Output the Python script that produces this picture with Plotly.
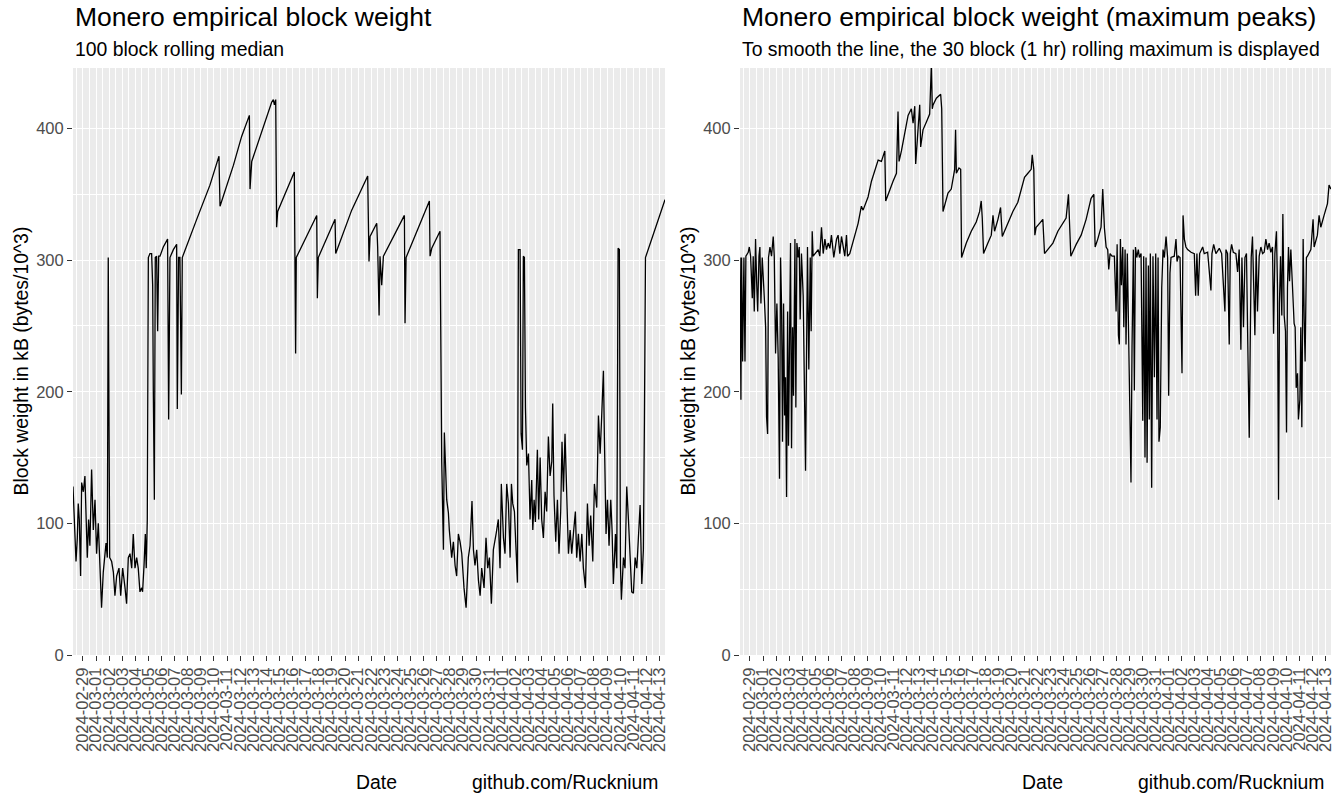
import plotly.graph_objects as go
import pandas as pd

# ---------------- data (days since 2024-02-29 00:00, value in kB) ----------------
date_origin = "2024-02-29"

left_days = [
    -0.76, -0.61, -0.53, -0.43, -0.36, -0.28, -0.18, -0.10, 0.03, 0.15, 0.23, 0.33, 0.43, 0.53,
    0.66, 0.79, 0.92, 1.04, 1.17, 1.30, 1.42, 1.55, 1.76, 1.86, 1.93, 2.04, 2.19, 2.32, 2.44,
    2.57, 2.75, 2.88, 3.03, 3.21, 3.33, 3.46, 3.59, 3.72, 3.84, 3.97, 4.10, 4.22, 4.35, 4.48,
    4.55, 4.66, 4.76, 4.83, 4.91, 4.99, 5.11, 5.24, 5.32, 5.37, 5.45, 5.52, 5.62, 5.70, 5.78,
    5.88, 6.13, 6.46, 6.54, 6.64, 6.90, 7.15, 7.20, 7.30, 7.40, 7.51, 7.58, 8.68, 9.69, 10.38,
    10.46, 11.48, 12.11, 12.70, 12.75, 12.88, 13.89, 14.40, 14.53, 14.61, 14.71, 14.78, 14.86,
    16.13, 16.23, 16.28, 17.84, 17.89, 17.96, 19.24, 19.29, 20.51, 21.73, 21.83, 21.91, 22.42,
    22.49, 22.60, 22.67, 22.80, 22.93, 24.53, 24.58, 24.66, 26.44, 26.49, 26.62, 27.25, 27.38,
    27.51, 27.58, 27.69, 27.76, 27.89, 27.96, 28.14, 28.27, 28.40, 28.52, 28.65, 28.78, 28.91,
    29.08, 29.24, 29.41, 29.54, 29.69, 29.80, 29.92, 30.05, 30.18, 30.31, 30.43, 30.61, 30.76,
    30.89, 31.02, 31.17, 31.32, 31.53, 31.70, 31.83, 31.93, 32.09, 32.21, 32.34, 32.47, 32.60,
    32.70, 32.80, 32.93, 33.05, 33.16, 33.23, 33.36, 33.44, 33.54, 33.61, 33.69, 33.77, 33.87,
    34.00, 34.12, 34.25, 34.33, 34.43, 34.53, 34.68, 34.78, 34.89, 35.01, 35.14, 35.27, 35.39,
    35.52, 35.65, 35.78, 35.85, 35.95, 36.08, 36.21, 36.33, 36.46, 36.56, 36.67, 36.79, 36.92,
    37.05, 37.18, 37.30, 37.43, 37.58, 37.68, 37.81, 37.94, 38.07, 38.19, 38.35, 38.50, 38.63,
    38.75, 38.91, 39.03, 39.21, 39.34, 39.47, 39.59, 39.72, 39.80, 39.92, 40.03, 40.15, 40.28,
    40.38, 40.48, 40.64, 40.74, 40.84, 40.94, 41.02, 41.09, 41.25, 41.37, 41.50, 41.63, 41.76,
    41.88, 42.01, 42.14, 42.27, 42.39, 42.52, 42.65, 42.77, 42.85, 42.93, 44.42,
]
left_kb = [
    128, 92, 71, 89, 115, 103, 60, 131, 124, 136, 109, 74, 103, 83,
    141, 95, 118, 77, 100, 57, 36, 63, 85, 74, 302, 74, 71, 63, 45,
    60, 66, 45, 66, 51, 39, 74, 77, 66, 92, 66, 74, 66, 48, 51,
    48, 68, 92, 66, 103, 302, 305, 305, 281, 200, 118, 302, 303, 246, 303,
    303, 310, 316, 179, 302, 308, 312, 187, 302, 302, 198, 302, 331, 357, 379,
    341, 372, 394, 410, 354, 375, 404, 420, 422, 418, 422, 325, 337,
    367, 229, 302, 334, 271, 302, 331, 305, 338, 364, 299, 318, 328,
    310, 258, 303, 281, 303, 334, 252, 302, 345, 303, 309, 322, 147,
    80, 169, 144, 118, 108, 95, 74, 86, 68, 60, 92, 86, 77,
    51, 36, 74, 83, 117, 80, 68, 80, 57, 45, 66, 51, 89,
    66, 74, 39, 80, 92, 103, 66, 130, 89, 77, 130, 115, 74,
    130, 115, 109, 80, 55, 308, 308, 168, 156, 303, 302, 188, 144,
    153, 103, 133, 95, 118, 101, 156, 103, 150, 103, 89, 124, 109,
    166, 136, 147, 191, 121, 86, 118, 77, 109, 162, 124, 168, 118,
    77, 95, 77, 92, 109, 74, 92, 71, 92, 66, 51, 115, 83,
    106, 71, 130, 112, 182, 153, 182, 216, 162, 92, 118, 83, 118,
    95, 54, 92, 66, 309, 308, 68, 42, 74, 66, 128, 103, 74,
    48, 47, 74, 66, 95, 114, 54, 80, 179, 302, 346,
]

right_days = [
    -0.76, -0.69, -0.64, -0.56, -0.46, -0.38, -0.31, -0.13, -0.05, 0.05, 0.18, 0.25, 0.33, 0.43,
    0.51, 0.59, 0.69, 0.76, 0.84, 0.94, 1.09, 1.20, 1.27, 1.35, 1.42, 1.53, 1.65, 1.78, 1.86,
    1.96, 2.06, 2.16, 2.26, 2.34, 2.42, 2.49, 2.57, 2.65, 2.72, 2.80, 2.88, 2.95, 3.03, 3.10,
    3.18, 3.26, 3.33, 3.44, 3.51, 3.59, 3.69, 3.77, 3.84, 3.94, 4.07, 4.17, 4.25, 4.33, 4.40,
    4.50, 4.61, 4.68, 4.76, 4.83, 4.96, 5.22, 5.34, 5.47, 5.60, 5.73, 5.85, 5.98, 6.11, 6.23,
    6.41, 6.62, 6.74, 6.87, 7.00, 7.12, 7.25, 7.38, 7.46, 7.63, 8.27, 8.52, 8.65, 9.03, 9.29,
    9.80, 10.05, 10.31, 10.38, 10.94, 11.20, 11.32, 11.40, 11.58, 11.83, 12.09, 12.34, 12.47,
    12.60, 12.67, 12.80, 12.98, 13.05, 13.23, 13.49, 13.74, 13.87, 13.94, 14.00, 14.25, 14.58,
    14.66, 14.76, 15.14, 15.39, 15.65, 15.72, 15.78, 15.98, 16.11, 16.18, 16.54, 16.92, 17.30,
    17.56, 17.68, 17.76, 17.86, 18.19, 18.45, 18.58, 18.70, 18.96, 19.16, 19.29, 19.72, 20.10,
    20.48, 20.74, 20.99, 21.25, 21.50, 21.58, 21.70, 21.78, 21.88, 22.14, 22.39, 22.52, 22.77,
    23.16, 23.54, 23.92, 24.17, 24.35, 24.43, 24.53, 24.94, 25.32, 25.70, 26.08, 26.29, 26.39,
    26.59, 26.84, 26.97, 27.10, 27.23, 27.35, 27.43, 27.53, 27.68, 27.86, 27.99, 28.07, 28.17,
    28.24, 28.32, 28.40, 28.50, 28.58, 28.68, 28.75, 28.85, 28.96, 29.13, 29.21, 29.31, 29.39,
    29.47, 29.57, 29.69, 29.77, 29.90, 30.03, 30.10, 30.20, 30.28, 30.36, 30.46, 30.53, 30.61,
    30.71, 30.81, 30.92, 31.02, 31.12, 31.20, 31.27, 31.37, 31.48, 31.58, 31.68, 31.81, 31.93,
    32.01, 32.11, 32.19, 32.44, 32.57, 32.65, 32.75, 32.88, 32.95, 33.03, 33.11, 33.21, 33.33,
    33.46, 33.72, 33.97, 34.07, 34.17, 34.27, 34.38, 34.61, 34.73, 34.99, 35.11, 35.24, 35.32,
    35.45, 35.62, 35.88, 36.06, 36.21, 36.31, 36.39, 36.51, 36.64, 36.72, 36.82, 36.95, 37.15,
    37.28, 37.40, 37.53, 37.61, 37.73, 37.84, 37.96, 38.09, 38.17, 38.24, 38.32, 38.42, 38.50,
    38.60, 38.70, 38.80, 38.93, 39.06, 39.19, 39.31, 39.44, 39.57, 39.69, 39.82, 39.95, 40.03,
    40.13, 40.25, 40.33, 40.41, 40.48, 40.56, 40.66, 40.74, 40.84, 40.94, 41.02, 41.09, 41.17,
    41.25, 41.35, 41.48, 41.60, 41.68, 41.76, 41.86, 41.93, 42.04, 42.11, 42.19, 42.29, 42.37,
    42.44, 42.54, 42.62, 42.88, 43.05, 43.13, 43.38, 43.51, 43.64, 43.89, 44.15, 44.27, 44.42,
]
right_kb = [
    302, 194, 302, 223, 302, 223, 303, 306, 310, 303, 271, 303, 261, 316,
    284, 261, 303, 310, 267, 302, 273, 249, 181, 168, 302, 310, 303, 318, 303,
    229, 267, 226, 134, 302, 264, 162, 267, 182, 211, 120, 261, 159, 241, 313,
    157, 249, 197, 316, 188, 313, 302, 310, 255, 305, 273, 176, 140, 232, 310,
    217, 302, 246, 322, 303, 305, 308, 303, 325, 305, 316, 308, 313, 309, 319,
    302, 316, 319, 305, 318, 310, 303, 319, 303, 305, 328, 341, 338, 348, 360,
    376, 375, 383, 345, 360, 366, 413, 375, 383, 395, 410, 415, 404,
    417, 373, 392, 418, 386, 399, 405, 411, 449, 415, 418, 423, 426,
    415, 337, 351, 354, 369, 399, 366, 370, 369, 302, 313, 322, 329,
    337, 345, 332, 305, 313, 319, 334, 322, 331, 340, 318, 328, 337,
    344, 353, 363, 366, 369, 380, 369, 319, 325, 328, 331, 305, 308,
    313, 322, 328, 332, 350, 334, 303, 312, 319, 331, 347, 350, 310,
    316, 325, 354, 324, 310, 308, 293, 305, 303, 303, 261, 312, 243,
    236, 316, 281, 310, 249, 308, 236, 305, 223, 131, 235, 308, 201,
    310, 302, 308, 302, 305, 178, 303, 150, 302, 146, 296, 179, 305,
    127, 303, 211, 305, 179, 302, 162, 173, 279, 308, 302, 318, 302,
    197, 290, 302, 303, 316, 299, 303, 302, 236, 214, 334, 316, 310,
    308, 306, 305, 273, 305, 273, 305, 310, 305, 306, 288, 277, 305,
    312, 305, 309, 305, 279, 261, 308, 305, 236, 305, 312, 306, 305,
    291, 308, 232, 302, 249, 302, 305, 214, 165, 232, 302, 318, 284,
    243, 308, 261, 303, 310, 305, 306, 316, 308, 313, 306, 310, 244,
    305, 322, 279, 118, 267, 303, 258, 335, 258, 246, 169, 279, 310,
    284, 308, 273, 252, 249, 203, 214, 179, 194, 249, 173, 316, 255,
    223, 302, 303, 308, 331, 310, 319, 334, 325, 334, 343, 357, 354,
]

y_ticks = [0, 100, 200, 300, 400]
y_max = 446
x_range_days = [-0.76, 44.42]

titles = ["Monero empirical block weight", "Monero empirical block weight (maximum peaks)"]
subtitles = ["100 block rolling median",
             "To smooth the line, the 30 block (1 hr) rolling maximum is displayed"]
y_title = "Block weight in kB (bytes/10^3)"
x_title = "Date"
caption = "github.com/Rucknium"


def to_time(days):
    return pd.Timestamp(date_origin) + pd.to_timedelta(pd.Series(days, dtype=float), unit="D")


# ---------------- figure ----------------
W, H = 1337, 794
FONT = "Liberation Sans, Arial, sans-serif"

fig = go.Figure()
fig.add_trace(go.Scatter(x=to_time(left_days), y=left_kb, mode="lines",
                         line=dict(color="black", width=1.3), xaxis="x", yaxis="y",
                         hoverinfo="skip"))
fig.add_trace(go.Scatter(x=to_time(right_days), y=right_kb, mode="lines",
                         line=dict(color="black", width=1.3), xaxis="x2", yaxis="y2",
                         hoverinfo="skip"))

xr = list(to_time(x_range_days))

panels = [(73, 665), (740, 1331)]
top_px, bot_px = 68, 655
ydom = [(H - bot_px) / H, (H - top_px) / H]

common_x = dict(
    type="date", range=xr, tick0=date_origin, dtick=86400000, tickformat="%Y-%m-%d",
    tickangle=-90, ticks="outside", ticklen=5, tickwidth=1.1, tickcolor="#333333",
    tickfont=dict(family=FONT, size=16.5, color="#4D4D4D"),
    showgrid=True, gridcolor="white", gridwidth=1.3, zeroline=False, showline=False,
    minor=dict(dtick=43200000, showgrid=True, gridcolor="white", gridwidth=0.6),
    fixedrange=True, automargin=False,
)
common_y = dict(
    range=[0, y_max], tickmode="array", tickvals=y_ticks, ticks="outside", ticklen=5,
    tickwidth=1.1, tickcolor="#333333",
    tickfont=dict(family=FONT, size=16.5, color="#4D4D4D"),
    showgrid=True, gridcolor="white", gridwidth=1.3, zeroline=False, showline=False,
    minor=dict(tickmode="linear", tick0=50, dtick=100, showgrid=True, gridcolor="white",
               gridwidth=0.6),
    fixedrange=True, automargin=False,
)

fig.update_layout(
    width=W, height=H, margin=dict(l=0, r=0, t=0, b=0, pad=0, autoexpand=False),
    autosize=False,
    paper_bgcolor="white", plot_bgcolor="#EBEBEB", showlegend=False,
    font=dict(family=FONT, color="black"),
    xaxis=dict(domain=[panels[0][0] / W, panels[0][1] / W], anchor="y", **common_x),
    yaxis=dict(domain=ydom, anchor="x", **common_y),
    xaxis2=dict(domain=[panels[1][0] / W, panels[1][1] / W], anchor="y2", **common_x),
    yaxis2=dict(domain=ydom, anchor="x2", **common_y),
)


def py(p):
    return 1 - p / H


ann = []
for i, (l, r) in enumerate(panels):
    ann.append(dict(text=titles[i], x=l / W, y=py(17), xanchor="left", yanchor="middle",
                    font=dict(size=26.5, color="black", family=FONT)))
    ann.append(dict(text=subtitles[i], x=l / W, y=py(49), xanchor="left", yanchor="middle",
                    font=dict(size=19.4, color="black", family=FONT)))
    ann.append(dict(text=x_title, x=(l + r) / 2 / W + 7 / W, y=py(782), xanchor="center",
                    yanchor="middle", font=dict(size=19.4, color="black", family=FONT)))
    ann.append(dict(text=caption, x=(r - 5) / W, y=py(782), xanchor="right",
                    yanchor="middle", font=dict(size=19.4, color="black", family=FONT)))
    ann.append(dict(text=y_title, x=(l - 53) / W, y=py((top_px + bot_px) / 2),
                    xanchor="center", yanchor="middle", textangle=-90,
                    font=dict(size=19.4, color="black", family=FONT)))
for a in ann:
    a.update(xref="paper", yref="paper", showarrow=False)
fig.update_layout(annotations=ann)

fig.write_html("out.html")
